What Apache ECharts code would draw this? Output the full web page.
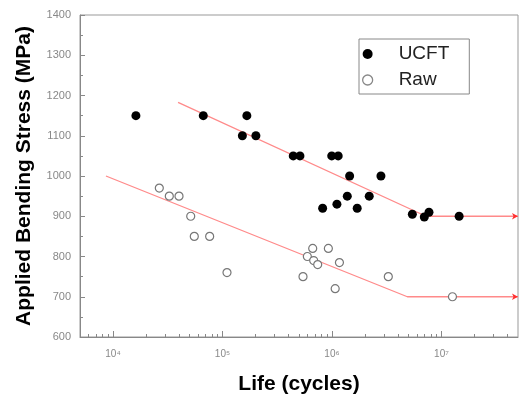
<!DOCTYPE html>
<html style="height: 100%">
   <head>
       <meta charset="utf-8">
       <script src="https://cdn.jsdelivr.net/npm/echarts@6/dist/echarts.min.js"></script>
       <title>S-N curve</title>
   </head>
   <body style="height: 100%; margin: 0">
       <div id="container" style="width: 526px; height: 400px"></div>
       <script type="text/javascript">

// fatigue life (cycles) vs applied bending stress (MPa)
let ucftLife = [1.62e4, 6.68e4, 1.52e5, 1.67e5, 2.02e5, 4.43e5, 5.10e5, 8.22e5, 9.95e5, 1.14e6,
                1.11e6, 1.45e6, 1.38e6, 1.70e6, 2.19e6, 2.80e6, 5.42e6, 6.97e6, 7.69e6, 1.45e7]
let ucftStress = [1150, 1150, 1100, 1150, 1100, 1050, 1050, 920, 1050, 1050,
                  930, 1000, 950, 920, 950, 1000, 905, 898, 910, 900]

let rawLife = [2.65e4, 3.27e4, 4.01e4, 5.13e4, 5.53e4, 7.64e4, 1.10e5, 5.44e5, 5.96e5, 6.67e5,
               6.81e5, 7.41e5, 9.27e5, 1.07e6, 1.17e6, 3.27e6, 1.26e7]
let rawStress = [970, 950, 950, 900, 850, 850, 760, 750, 800, 820,
                 790, 780, 820, 720, 785, 750, 700]

// fitted S-N lines (start, knee, end)
let ucftFitLife = [3.93e4, 7.23e6, 5e7]
let ucftFitStress = [1183, 900, 900]
let rawFitLife = [8.63e3, 4.88e6, 5e7]
let rawFitStress = [1000, 700, 700]

let minorTicks = [6e3, 7e3, 8e3, 9e3,
                  2e4, 3e4, 4e4, 5e4, 6e4, 7e4, 8e4, 9e4,
                  2e5, 3e5, 4e5, 5e5, 6e5, 7e5, 8e5, 9e5,
                  2e6, 3e6, 4e6, 5e6, 6e6, 7e6, 8e6, 9e6,
                  2e7, 3e7, 4e7]

const sup = {'0': '⁰', '1': '¹', '2': '²', '3': '³', '4': '⁴', '5': '⁵', '6': '⁶', '7': '⁷', '8': '⁸', '9': '⁹'}
const font = 'Liberation Sans, Arial, sans-serif'

function pairs(xs, ys) {
    return xs.map((x, i) => [x, ys[i]])
}

function fitLine(xs, ys) {
    let d = pairs(xs, ys)
    let last = d.length - 1
    d[last] = {value: d[last], symbol: 'arrow', symbolSize: [5, 6], symbolRotate: -90,
               itemStyle: {color: '#ff3030'}}
    return d
}

let chart = echarts.init(document.getElementById('container'))
chart.setOption({
    animation: false,
    textStyle: {fontFamily: font},
    grid: {left: 80, right: 8, top: 15, bottom: 59, show: true, borderColor: '#999', borderWidth: 1},
    legend: {
        orient: 'vertical',
        left: 359, top: 39,
        padding: [5, 20, 4, 3],
        itemWidth: 52, itemHeight: 10, itemGap: 6,
        borderColor: '#888', borderWidth: 1,
        textStyle: {fontSize: 19, lineHeight: 20, color: '#222', fontFamily: font},
        data: [
            {name: 'UCFT', icon: 'circle', itemStyle: {color: '#000'}},
            {name: 'Raw', icon: 'circle', itemStyle: {color: '#fff', borderColor: '#888', borderWidth: 1.3}}
        ]
    },
    xAxis: [
        {
            type: 'log', logBase: 10, min: 5000, max: 5e7,
            name: 'Life (cycles)', nameLocation: 'middle', nameGap: 37,
            nameTextStyle: {fontSize: 21, fontWeight: 'bold', color: '#000', fontFamily: font},
            axisLine: {lineStyle: {color: '#888'}},
            axisTick: {inside: true, length: 6, lineStyle: {color: '#888'}},
            axisLabel: {
                color: '#888', fontSize: 10, margin: 12,
                showMinLabel: false, showMaxLabel: false,
                formatter: v => {
                    let e = Math.round(Math.log10(v))
                    return '10' + String(e).split('').map(c => sup[c]).join('')
                }
            },
            splitLine: {show: false}
        },
        {
            type: 'log', logBase: 10, min: 5000, max: 5e7, position: 'bottom',
            axisLine: {show: false},
            axisTick: {inside: true, length: 3, customValues: minorTicks, lineStyle: {color: '#888'}},
            axisLabel: {show: false},
            splitLine: {show: false}
        }
    ],
    yAxis: {
        type: 'value', min: 600, max: 1400, interval: 100,
        name: 'Applied Bending Stress (MPa)', nameLocation: 'middle', nameGap: 45,
        nameTextStyle: {fontSize: 21, fontWeight: 'bold', color: '#000', fontFamily: font},
        axisLine: {show: true, lineStyle: {color: '#888'}},
        axisTick: {show: true, inside: true, length: 5, lineStyle: {color: '#888'}},
        minorTick: {show: true, splitNumber: 2, length: 3, lineStyle: {color: '#888'}},
        axisLabel: {color: '#888', fontSize: 11, margin: 9, formatter: v => String(v)},
        splitLine: {show: false}
    },
    series: [
        {
            type: 'line', name: 'UCFT fit', data: fitLine(ucftFitLife, ucftFitStress),
            symbol: 'none', showSymbol: true, clip: false, z: 1,
            lineStyle: {color: '#ff8a8a', width: 1.3}
        },
        {
            type: 'line', name: 'Raw fit', data: fitLine(rawFitLife, rawFitStress),
            symbol: 'none', showSymbol: true, clip: false, z: 1,
            lineStyle: {color: '#ff8a8a', width: 1.3}
        },
        {
            type: 'scatter', name: 'UCFT', data: pairs(ucftLife, ucftStress),
            symbol: 'circle', symbolSize: 9, z: 3,
            itemStyle: {color: '#000', opacity: 1}
        },
        {
            type: 'scatter', name: 'Raw', data: pairs(rawLife, rawStress),
            symbol: 'circle', symbolSize: 8, z: 2,
            itemStyle: {color: '#fff', borderColor: '#777', borderWidth: 1.2, opacity: 1}
        }
    ]
})

       </script>
   </body>
</html>
